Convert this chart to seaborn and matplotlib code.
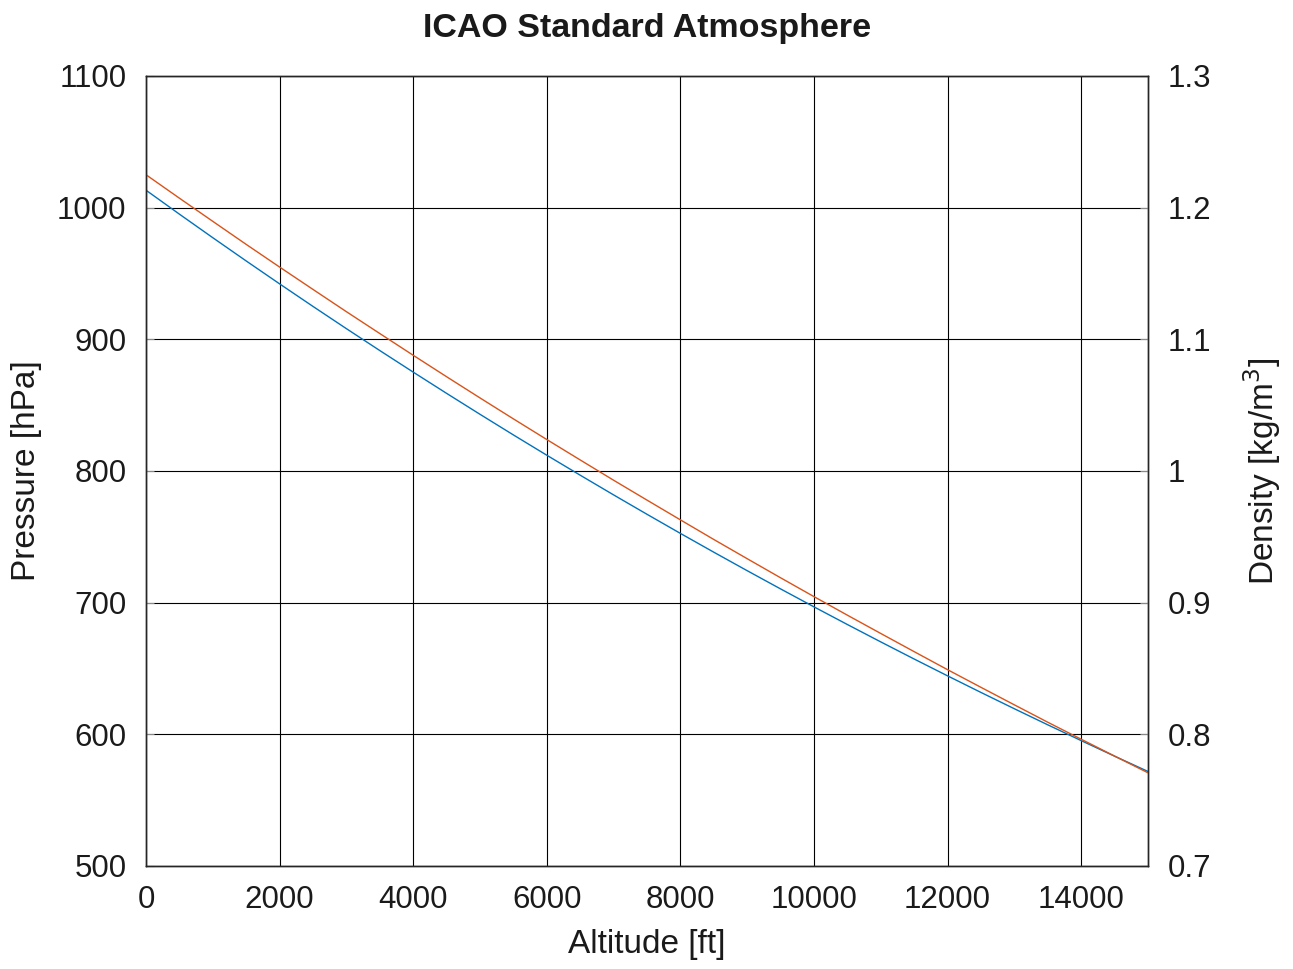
import matplotlib
matplotlib.use("Agg")
import matplotlib.pyplot as plt
import seaborn as sns
import pandas as pd

altitude_ft = [0, 500, 1000, 1500, 2000, 2500, 3000, 3500, 4000, 4500, 5000,
               5500, 6000, 6500, 7000, 7500, 8000, 8500, 9000, 9500, 10000,
               10500, 11000, 11500, 12000, 12500, 13000, 13500, 14000, 14500, 15000]
pressure_hpa = [1013.25, 995.07, 977.17, 959.52, 942.13, 924.99, 908.11, 891.48,
                875.11, 858.97, 843.07, 827.40, 811.99, 796.82, 781.86, 767.13,
                752.62, 738.34, 724.29, 710.45, 696.82, 683.41, 670.20, 657.20,
                644.41, 631.82, 619.43, 607.23, 595.24, 583.42, 571.81]
density_kgm3 = [1.2250, 1.2072, 1.1896, 1.1721, 1.1549, 1.1379, 1.1210, 1.1044,
                1.0879, 1.0716, 1.0555, 1.0396, 1.0239, 1.0084, 0.9930, 0.9779,
                0.9629, 0.9480, 0.9334, 0.9189, 0.9046, 0.8905, 0.8766, 0.8628,
                0.8491, 0.8357, 0.8224, 0.8092, 0.7963, 0.7835, 0.7708]
x_ticks = [0, 2000, 4000, 6000, 8000, 10000, 12000, 14000]
p_ticks = [500, 600, 700, 800, 900, 1000, 1100]
rho_ticks = [0.7, 0.8, 0.9, 1.0, 1.1, 1.2, 1.3]
rho_tick_labels = ["0.7", "0.8", "0.9", "1", "1.1", "1.2", "1.3"]

df = pd.DataFrame({"alt": altitude_ft, "p": pressure_hpa, "rho": density_kgm3})

sns.set_theme(style="white")
plt.rcParams['font.family'] = ['Liberation Sans', 'DejaVu Sans']

TXT = "#1a1a1a"
fig = plt.figure(figsize=(12.93, 9.69), dpi=100)
ax = fig.add_axes([0.1129, 0.1063, 0.7749, 0.8153])
ax2 = ax.twinx()

sns.lineplot(data=df, x="alt", y="p", ax=ax, color="#0072BD", linewidth=1.0)
sns.lineplot(data=df, x="alt", y="rho", ax=ax2, color="#D95319", linewidth=1.0)

ax.set_xlim(0, 15000)
ax.set_ylim(500, 1100)
ax2.set_ylim(0.7, 1.3)
ax.set_xticks(x_ticks)
ax.set_yticks(p_ticks)
ax2.set_yticks(rho_ticks)
ax2.set_yticklabels(rho_tick_labels)

ax.grid(True, color="black", linewidth=0.8)
ax.set_axisbelow(True)
for a in (ax, ax2):
    for s in a.spines.values():
        s.set_color("#262626")
        s.set_linewidth(1.0)
    a.tick_params(direction="in", length=6, width=0.8, color="#888888",
                  labelsize=22.5, labelcolor=TXT, pad=14)

ax.set_xlabel("Altitude [ft]", fontsize=24, color=TXT, labelpad=10)
ax.set_ylabel("Pressure [hPa]", fontsize=24, color=TXT, labelpad=11)
ax2.set_ylabel("Density [kg/m$^3$]", fontsize=24, color=TXT, labelpad=22)
ax.set_title("ICAO Standard Atmosphere", fontsize=24.5, fontweight="bold",
             color=TXT, pad=28)

fig.savefig("out.png", dpi=100)
